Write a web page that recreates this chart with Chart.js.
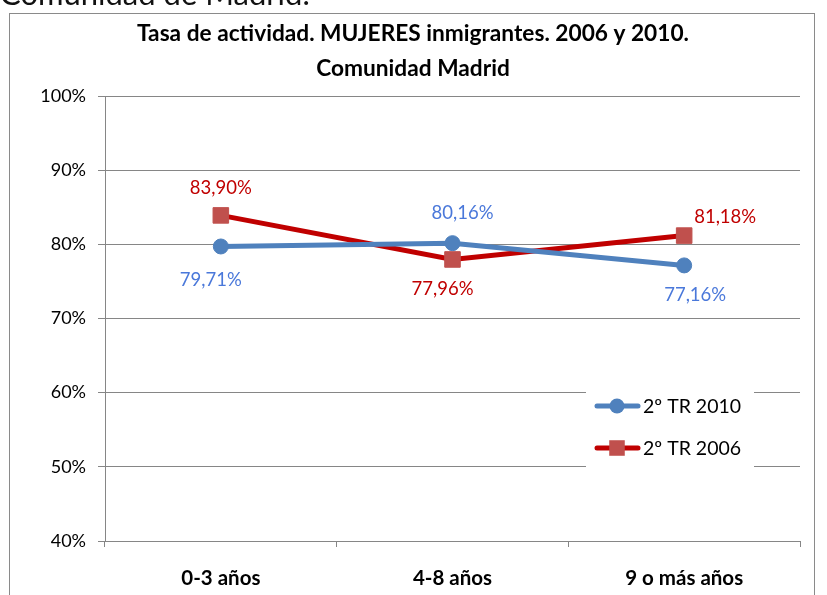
<!DOCTYPE html>
<html>
<head>
<meta charset="utf-8">
<script src="https://cdn.jsdelivr.net/npm/chart.js@4"></script>
<style>
html,body{margin:0;padding:0;background:#fff;}
#wrap{width:827px;height:595px;position:relative;}
</style>
</head>
<body>
<div id="wrap"><canvas id="c" width="827" height="595"></canvas></div>
<script>
const categories = ["0-3 años", "4-8 años", "9 o más años"];
const seriesNames = ["2º TR 2010", "2º TR 2006"];
const values2010 = [79.71, 80.16, 77.16];
const values2006 = [83.90, 77.96, 81.18];
const yTicks = [40, 50, 60, 70, 80, 90, 100];
const titleLines = ["Tasa de actividad. MUJERES inmigrantes. 2006 y 2010.", "Comunidad Madrid"];
const pageHeading = "Comunidad de Madrid.";

const FONT = "Lato, 'Open Sans', sans-serif";
const fmt = v => v.toFixed(2).replace('.', ',') + '%';

// label offsets (style only)
const labelStyle = [
  { color: '#4A78DA', offsets: [[-10, 34], [10, -30], [11, 30]] },
  { color: '#C00000', offsets: [[0, -27], [-10, 30], [41, -19]] }
];

const decor = {
  id: 'decor',
  beforeDraw(chart) {
    const ctx = chart.ctx;
    ctx.save();
    ctx.fillStyle = '#fff';
    ctx.fillRect(0, 0, chart.width, chart.height);
    // page heading partly cut off
    ctx.fillStyle = '#111';
    ctx.font = "31px " + FONT;
    ctx.textBaseline = 'alphabetic';
    ctx.textAlign = 'left';
    ctx.fillText(pageHeading, 0, 5);
    // chart frame
    ctx.strokeStyle = '#8a8a8a';
    ctx.lineWidth = 1;
    ctx.strokeRect(9.5, 13.5, 805, 600);
    // title
    ctx.fillStyle = '#000';
    ctx.font = "bold 22.7px " + FONT;
    ctx.textAlign = 'center';
    ctx.textBaseline = 'middle';
    ctx.fillText(titleLines[0], 413, 34);
    ctx.fillText(titleLines[1], 413, 69);
    ctx.restore();
  },
  afterDatasetsDraw(chart) {
    const ctx = chart.ctx;
    ctx.save();
    ctx.font = "18.5px " + FONT;
    ctx.textAlign = 'center';
    ctx.textBaseline = 'middle';
    chart.data.datasets.forEach((ds, di) => {
      const meta = chart.getDatasetMeta(di);
      meta.data.forEach((pt, i) => {
        const off = labelStyle[di].offsets[i];
        ctx.fillStyle = labelStyle[di].color;
        ctx.fillText(fmt(ds.data[i]), pt.x + off[0], pt.y + off[1]);
      });
    });
    // legend
    const bx = 586, by = 381, bw = 168, bh = 94;
    ctx.fillStyle = '#fff';
    ctx.fillRect(bx, by, bw, bh);
    const rows = [406, 448];
    ctx.font = "19.5px " + FONT;
    chart.data.datasets.forEach((ds, di) => {
      const y = rows[di];
      ctx.strokeStyle = ds.borderColor;
      ctx.lineWidth = ds.borderWidth;
      ctx.lineCap = 'round';
      ctx.beginPath();
      ctx.moveTo(597, y);
      ctx.lineTo(638, y);
      ctx.stroke();
      ctx.fillStyle = ds.pointBackgroundColor;
      ctx.beginPath();
      if (ds.pointStyle === 'circle') {
        ctx.arc(617, y, ds.pointRadius, 0, Math.PI * 2);
      } else {
        const s = ds.pointRadius * Math.SQRT1_2;
        ctx.rect(617 - s, y - s, 2 * s, 2 * s);
      }
      ctx.fill();
      ctx.fillStyle = '#000';
      ctx.textAlign = 'left';
      ctx.fillText(ds.label, 643, y + 1);
    });
    ctx.restore();
  }
};

new Chart(document.getElementById('c'), {
  type: 'line',
  data: {
    labels: categories,
    datasets: [
      {
        label: seriesNames[0], data: values2010,
        borderColor: '#4F81BD', backgroundColor: '#4F81BD', borderWidth: 5,
        pointStyle: 'circle', pointRadius: 7.5, pointBackgroundColor: '#4F81BD', pointBorderColor: '#4F81BD',
        pointBorderWidth: 1, tension: 0
      },
      {
        label: seriesNames[1], data: values2006,
        borderColor: '#C00000', backgroundColor: '#C0504D', borderWidth: 5,
        pointStyle: 'rect', pointRadius: 11, pointBackgroundColor: '#C0504D', pointBorderColor: '#C0504D',
        pointBorderWidth: 1, tension: 0
      }
    ]
  },
  options: {
    responsive: false,
    animation: false,
    events: [],
    layout: { padding: { left: 0, right: 27, top: 96, bottom: 0 } },
    plugins: { legend: { display: false }, title: { display: false }, tooltip: { enabled: false } },
    scales: {
      x: {
        offset: true,
        afterFit(s) { s.height = 54; },
        grid: { offset: true, drawOnChartArea: false, drawTicks: true, tickLength: 6, color: '#868686' },
        border: { display: true, color: '#868686', width: 1 },
        ticks: { color: '#000', font: { family: FONT, size: 20.5, weight: 'bold' }, padding: 19, maxRotation: 0 }
      },
      y: {
        min: 40, max: 100,
        afterFit(s) { s.width = 105; },
        afterBuildTicks(s) { s.ticks = yTicks.map(v => ({ value: v })); },
        grid: { color: '#868686', lineWidth: 1, tickLength: 7 },
        border: { display: true, color: '#868686', width: 1 },
        ticks: { color: '#000', font: { family: FONT, size: 18 }, padding: 12, callback: v => v + '%' }
      }
    }
  },
  plugins: [decor]
});
</script>
</body>
</html>
